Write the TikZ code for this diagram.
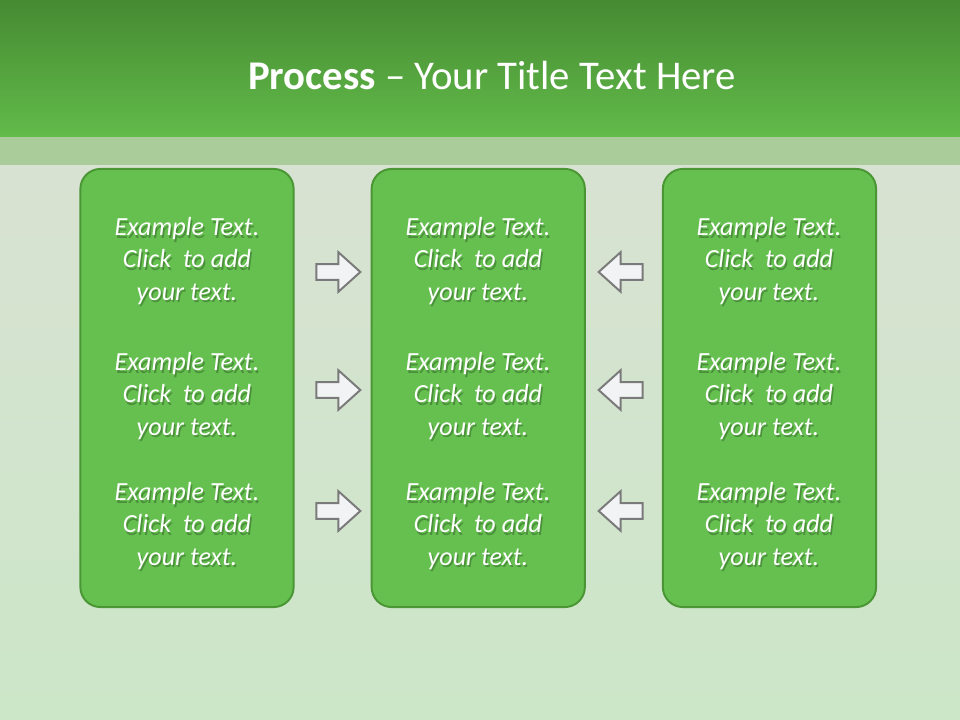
\documentclass[tikz,border=0pt]{standalone}
\usepackage{fontspec}
\setmainfont{Carlito}
\usetikzlibrary{positioning,calc,shapes.arrows}
\definecolor{bardark}{RGB}{70,138,50}
\definecolor{barlight}{RGB}{98,187,74}
\definecolor{band}{RGB}{170,204,154}
\definecolor{bgtop}{RGB}{216,226,210}
\definecolor{bgbottom}{RGB}{204,230,200}
\definecolor{boxfill}{RGB}{101,192,80}
\definecolor{boxline}{RGB}{74,150,52}
\definecolor{arrowfill}{RGB}{241,243,245}
\definecolor{arrowline}{RGB}{122,122,122}

\begin{document}
\begin{tikzpicture}[
    x=0.025cm,
    y=-0.025cm,
    node distance=1.9cm,
    stage/.style={
        draw=boxline,
        line width=1.4pt,
        fill=boxfill,
        rounded corners=0.5cm,
        minimum width=5.33cm,
        minimum height=10.95cm
    },
    txt/.style={
        text=white,
        font=\fontsize{18.6}{22.8}\selectfont\itshape,
        align=center
    },
    txtshadow/.style={
        txt,
        text=black,
        text opacity=0.25
    },
    blockarrow/.style={
        single arrow,
        draw=arrowline,
        line width=1.4pt,
        fill=arrowfill,
        inner xsep=0pt,
        inner ysep=0.17cm,
        minimum height=1.1cm,
        single arrow head extend=0.3cm,
        single arrow tip angle=84
    }
]

% background
\useasboundingbox (0,0) rectangle (960,720);
\fill[top color=bgtop, bottom color=bgbottom] (0,165) rectangle (960,720);
\fill[band] (0,137) rectangle (960,165);
\fill[top color=bardark, bottom color=barlight] (0,0) rectangle (960,137);

\node[
    text=white,
    font=\fontsize{29}{34}\selectfont
] (title) at (492,75)
{\textbf{Process} – Your Title Text Here};

% stages
\node[
    stage
] (lft) at (187,388) {};

\node[
    stage,
    right=of lft
] (mid) {};

\node[
    stage,
    right=of mid
] (rgt) {};

% arrows
\node[blockarrow] (r1) at (334,272) {};
\node[blockarrow] (r2) at (334,390) {};
\node[blockarrow] (r3) at (334,511) {};
\node[blockarrow, shape border rotate=180] (l1) at (625,272) {};
\node[blockarrow, shape border rotate=180] (l2) at (625,390) {};
\node[blockarrow, shape border rotate=180] (l3) at (625,511) {};

% texts
\foreach \cx in {187,478,769} {
    \foreach \ry in {261,396,526} {
        \node[txtshadow] (sh-\cx-\ry) at (\cx+1.5,\ry+2.5)
        {Example Text.\\Click~ to add\\your text.};
        \node[txt] (t-\cx-\ry) at (\cx,\ry)
        {Example Text.\\Click~ to add\\your text.};
    }
}

\end{tikzpicture}
\end{document}
